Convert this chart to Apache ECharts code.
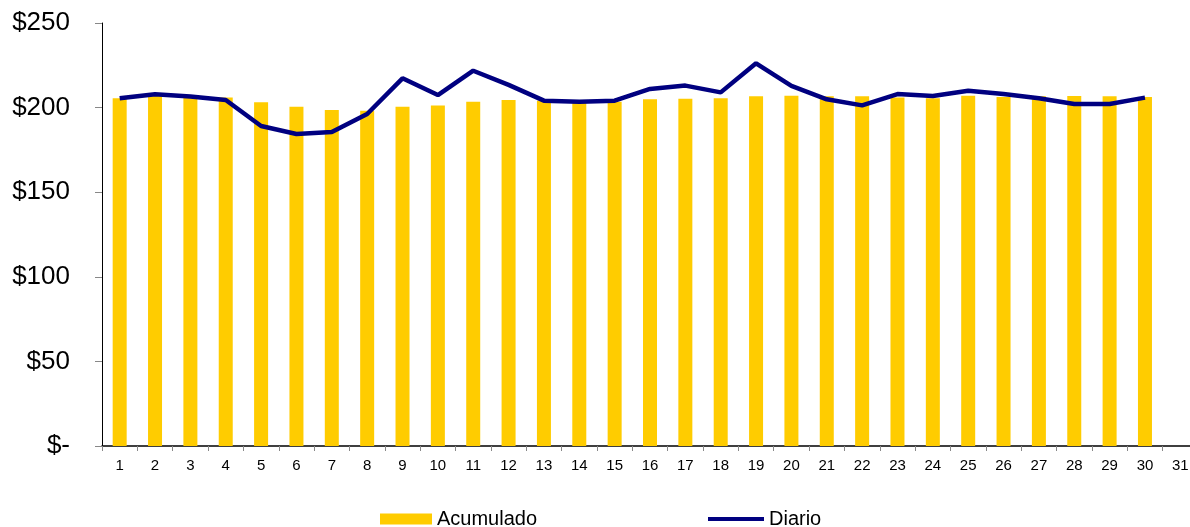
<!DOCTYPE html>
<html>
<head>
<meta charset="utf-8">
<script src="https://cdn.jsdelivr.net/npm/echarts@6/dist/echarts.min.js"></script>
<style>
  html, body { margin: 0; padding: 0; background: #fff; overflow: hidden; }
  /* wider than the window: the plot runs a little past the right edge */
  #chart { width: 1200px; height: 527px; }
</style>
</head>
<body>
<div id="chart"></div>
<script>
// days of the month
const days = ["1","2","3","4","5","6","7","8","9","10","11","12","13","14","15","16","17","18","19","20","21","22","23","24","25","26","27","28","29","30","31"];
// accumulated average (bars)
const acumulado = [205.5, 207, 206, 205.9, 203.1, 200.5, 198.6, 198.2, 200.5, 201.3, 203.5, 204.5, 204, 203.3, 203.5, 204.9, 205.3, 205.5, 206.7, 207, 206.7, 206.7, 206, 205.5, 207, 206.3, 206.7, 206.9, 206.7, 206.3, null];
// daily value (line)
const diario = [205.5, 207.9, 206.5, 204.5, 189.1, 184.4, 185.6, 196.2, 217.3, 207.4, 221.8, 213.4, 204.1, 203.5, 204.1, 211, 213, 209, 226.2, 212.8, 204.9, 201.3, 208, 206.9, 210, 208, 205.5, 202.1, 202.1, 205.9, null];
const yTicks = [0, 50, 100, 150, 200, 250];

const chart = echarts.init(document.getElementById("chart"));
const font = "'Liberation Sans', Arial, sans-serif";

const option = {
  backgroundColor: "#fff",
  animation: false,
  textStyle: { fontFamily: font },
  grid: { left: 102, top: 23, width: 1096, height: 423, containLabel: false },
  legend: [
    {
      data: ["Acumulado"],
      left: 380,
      top: 509,
      padding: 0,
      icon: "rect",
      itemWidth: 52,
      itemHeight: 11,
      textStyle: { fontSize: 20, color: "#000", fontFamily: font },
    },
    {
      data: ["Diario"],
      left: 708,
      top: 509,
      padding: 0,
      icon: "rect",
      itemWidth: 56,
      itemHeight: 4,
      textStyle: { fontSize: 20, color: "#000", fontFamily: font },
    },
  ],
  xAxis: {
    type: "category",
    data: days,
    boundaryGap: true,
    axisLine: { lineStyle: { color: "#000", width: 1.5 } },
    axisTick: { show: true, length: 5, lineStyle: { color: "#888" } },
    axisLabel: { color: "#000", fontSize: 15, margin: 12, fontFamily: font },
    splitLine: { show: false },
  },
  yAxis: {
    type: "value",
    min: yTicks[0],
    max: yTicks[yTicks.length - 1],
    interval: 50,
    axisLine: { show: true, lineStyle: { color: "#000", width: 1 } },
    axisTick: { show: true, length: 7, lineStyle: { color: "#888" } },
    axisLabel: {
      color: "#000",
      fontSize: 26,
      margin: 32,
      fontFamily: font,
      formatter: (v) => (v === 0 ? "$-" : "$" + v),
    },
    splitLine: { show: false },
  },
  series: [
    {
      name: "Acumulado",
      type: "bar",
      data: acumulado,
      barWidth: 14,
      itemStyle: { color: "#FFCC00" },
    },
    {
      name: "Diario",
      type: "line",
      data: diario,
      showSymbol: false,
      symbol: "none",
      lineStyle: { color: "#000080", width: 4.5 },
      itemStyle: { color: "#000080" },
    },
  ],
};
chart.setOption(option);
</script>
</body>
</html>
